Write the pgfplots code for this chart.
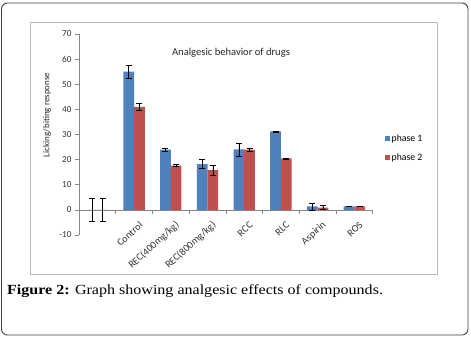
\documentclass[border=0pt]{standalone}
\usepackage{pgfplots}
\pgfplotsset{compat=1.18}
\usepackage{fontspec}
\setmainfont{Liberation Serif}
\newfontfamily\calf{Carlito}
\definecolor{bA}{HTML}{4F81BD}
\definecolor{rA}{HTML}{C0504D}
\definecolor{axg}{HTML}{868686}
\pgfplotstableread{
x y e
0 0 4.7
1 55 2.5
2 24 0.6
3 18.2 1.8
4 24.1 2.6
5 31.2 0.2
6 1.4 1.4
7 1.4 0
}\phaseone
\pgfplotstableread{
x y e
0 0 4.7
1 41 1.5
2 17.6 0.4
3 15.8 1.9
4 24 0.6
5 20.5 0.2
6 0.9 0.8
7 1.4 0
}\phasetwo
\begin{document}
\begin{tikzpicture}[x=1bp,y=1bp]
\useasboundingbox (0,0) rectangle (471,-337);
\draw[rounded corners=6bp, line width=0.9bp, black!75] (1.5,-3) rectangle (468,-335);
\draw[gray!55, line width=0.9bp] (30,-22) rectangle (437,-274);
\begin{axis}[
  at={(79bp,-235bp)}, anchor=south west,
  scale only axis, width=293.7bp, height=201bp,
  xmin=-0.5, xmax=7.5, ymin=-10, ymax=70,
  axis y line*=left, axis x line*=middle,
  axis line style={axg, line width=0.7bp, -},
  ybar, bar width=10.7bp,
  ytick={-10,0,...,70},
  xtick={0,...,7},
  xticklabels={,Control,REC(400mg/kg),REC(800mg/kg),RCC,RLC,Aspirin,ROS},
  minor xtick={0.5,1.5,...,7.5},
  major x tick style={draw=none},
  minor x tick style={axg, line width=0.7bp},
  y tick style={axg, line width=0.7bp},
  tick align=outside,
  major tick length=4bp, minor tick length=4bp,
  /pgf/number format/assume math mode=true,
  yticklabel style={font=\calf\fontsize{9.2}{10}\selectfont, text=black!80},
  xticklabel style={font=\calf\fontsize{10.2}{11}\selectfont, text=black!80, rotate=42, anchor=east, xshift=2bp, yshift=-12bp},
  legend style={at={(1.04,0.433)}, anchor=west, draw=none, fill=none,
    font=\calf\fontsize{9.8}{11}\selectfont, row sep=6.5bp, inner sep=0pt},
  legend image code/.code={\fill[#1] (0bp,-2.5bp) rectangle (5bp,2.5bp);},
  legend cell align=left,
]
\addplot[fill=bA, draw=none, bar shift=-5.35bp,
  error bars/.cd, y dir=both, y explicit, error bar style={black, line width=0.6bp},
  error mark options={rotate=90, mark size=3bp, black, line width=0.6bp}]
  table[x=x, y=y, y error=e] {\phaseone};
\addplot[fill=rA, draw=none, bar shift=5.35bp,
  error bars/.cd, y dir=both, y explicit, error bar style={black, line width=0.6bp},
  error mark options={rotate=90, mark size=3bp, black, line width=0.6bp}]
  table[x=x, y=y, y error=e] {\phasetwo};
\legend{phase 1, phase 2}
\end{axis}
\node[rotate=90, font=\calf\fontsize{9}{10}\selectfont, text=black!85] at (47,-115) {Licking/biting response};
\node[font=\calf\fontsize{10.6}{12}\selectfont, text=black!85] at (231,-53) {Analgesic behavior of drugs};
\node[anchor=base west, inner sep=0pt, font=\fontsize{14}{16}\selectfont] at (7,-294) {\scalebox{1.15}[1]{\textbf{Figure 2:} Graph showing analgesic effects of compounds.}};
\end{tikzpicture}
\end{document}
